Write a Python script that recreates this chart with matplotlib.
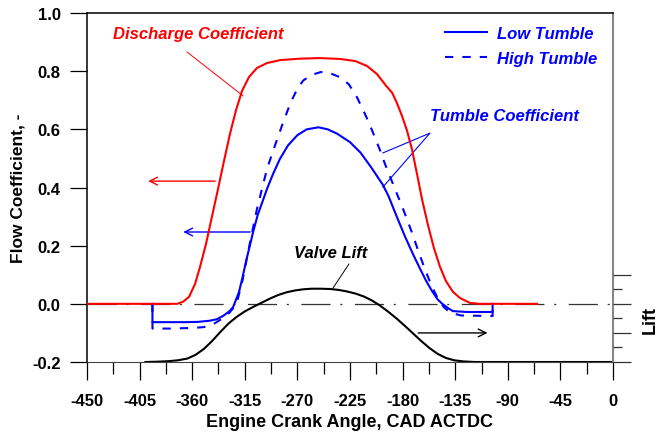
import matplotlib
matplotlib.use('Agg')
import matplotlib.pyplot as plt
from matplotlib.ticker import MultipleLocator, NullFormatter

plt.rcParams['font.family'] = ['Liberation Sans', 'DejaVu Sans']
plt.rcParams['font.weight'] = 'bold'
plt.rcParams['axes.labelweight'] = 'bold'
plt.rcParams['lines.scale_dashes'] = False

# discharge coefficient (left axis)
cd_cad = [-450, -380, -373, -367.9, -362.7, -357.6, -353.3, -348.2, -343.1, -337.9, -332.8,
          -327.7, -322.5, -317.4, -311.4, -304.6, -296, -284.9, -267.8, -250.7, -233.6,
          -220.7, -210.5, -201.9, -194.2, -189, -184.8, -180.5, -176.2, -171.9, -167.6,
          -163.4, -158.3, -153.2, -148.0, -142.9, -136.9, -130.9, -122.3, -113.8, -65]
cd_val = [0, 0, 0, 0.007, 0.024, 0.068, 0.127, 0.206, 0.30, 0.395, 0.491, 0.584, 0.666,
          0.732, 0.78, 0.811, 0.828, 0.838, 0.843, 0.845, 0.842, 0.835, 0.818, 0.79, 0.75,
          0.726, 0.69, 0.646, 0.595, 0.53, 0.445, 0.36, 0.271, 0.192, 0.127, 0.078, 0.041,
          0.02, 0.003, 0, 0]

# tumble coefficient, low tumble port
low_cad = [-394, -394, -380, -365, -355, -345, -339, -333, -328, -325, -320, -317, -314,
           -311, -308, -304, -300, -296, -291, -285, -278, -270, -262, -252, -244, -236,
           -225, -216, -207, -197, -192, -185, -178, -171, -165, -160, -155, -150, -146,
           -141, -137, -125, -103, -103]
low_val = [0, -0.063, -0.063, -0.063, -0.062, -0.058, -0.053, -0.04, -0.025, -0.011, 0.04,
           0.09, 0.145, 0.195, 0.245, 0.305, 0.35, 0.395, 0.445, 0.498, 0.545, 0.58, 0.60,
           0.607, 0.60, 0.585, 0.556, 0.52, 0.47, 0.41, 0.37, 0.30, 0.232, 0.17, 0.12, 0.08,
           0.045, 0.015, 0.0, -0.015, -0.025, -0.028, -0.028, 0]

# tumble coefficient, high tumble port
high_cad = [-394, -394, -380, -360, -350, -342, -334, -328, -322, -317, -310.6, -304.6,
            -300, -296, -290, -283, -276, -270, -265, -258, -250, -242, -234, -226, -219,
            -213, -208, -203, -199, -195, -190, -185, -179, -172, -166, -160, -155, -150,
            -145, -139.5, -130, -103, -103]
high_val = [0, -0.085, -0.085, -0.083, -0.08, -0.07, -0.05, -0.03, 0.0, 0.08, 0.21, 0.326,
            0.40, 0.464, 0.535, 0.615, 0.69, 0.74, 0.768, 0.787, 0.797, 0.793, 0.78, 0.755,
            0.71, 0.66, 0.615, 0.565, 0.525, 0.48, 0.43, 0.38, 0.32, 0.245, 0.175, 0.11, 0.06,
            0.02, -0.01, -0.03, -0.04, -0.042, 0]

# valve lift, drawn in left-axis units (right axis has no numbers)
lift_cad = [-400, -390, -380, -372, -364, -357, -350, -343, -336, -329, -322, -315, -308,
            -300, -293, -286, -279, -272, -265, -258, -250, -242, -235, -228, -220, -213,
            -206, -199, -192, -185, -178, -171, -164, -157, -150, -143, -136, -128, -118, 0]
lift_val = [-0.200, -0.199, -0.197, -0.194, -0.188, -0.175, -0.155, -0.128, -0.097, -0.068,
            -0.045, -0.026, -0.011, 0.005, 0.019, 0.031, 0.040, 0.046, 0.050, 0.052, 0.052,
            0.051, 0.048, 0.043, 0.035, 0.025, 0.011, -0.007, -0.028, -0.051, -0.076, -0.102,
            -0.128, -0.152, -0.172, -0.186, -0.194, -0.198, -0.2, -0.2]

xticks = [-450, -405, -360, -315, -270, -225, -180, -135, -90, -45, 0]
yticks = [-0.2, 0.0, 0.2, 0.4, 0.6, 0.8, 1.0]

fig = plt.figure(figsize=(6.6, 4.35), dpi=100)
ax = fig.add_axes([0.1318, 0.1655, 0.7970, 0.8023])

ax.plot([-450, 0], [0, 0], color='#333333', lw=0.9, dashes=(21, 7, 1.5, 9), zorder=1)
ax.plot(lift_cad, lift_val, color='black', lw=1.5, zorder=2)
l1, = ax.plot(low_cad, low_val, color='blue', lw=1.5, zorder=3, label='Low Tumble')
l2, = ax.plot(high_cad, high_val, color='blue', lw=1.5, dashes=(6, 6.5), zorder=3,
              label='High Tumble')
ax.plot(cd_cad, cd_val, color='red', lw=1.5, zorder=4)

ax.set_xlim(-450, 0)
ax.set_ylim(-0.2, 1.0)
ax.set_xticks(xticks)
ax.set_xticklabels([str(t) for t in xticks])
ax.xaxis.set_minor_locator(MultipleLocator(22.5))
ax.set_yticks(yticks)
ax.set_yticklabels(['%.1f' % t for t in yticks])
ax.tick_params(axis='x', which='major', direction='out', length=13, width=0.9,
               labelsize=12, pad=9)
ax.tick_params(axis='x', which='minor', direction='out', length=8.5, width=0.9)
ax.tick_params(axis='y', which='major', direction='out', length=12, width=0.9,
               labelsize=12, pad=7)
for side in ['left', 'top']:
    ax.spines[side].set_linewidth(1.1)
ax.spines['bottom'].set_color('#444444')
ax.spines['right'].set_color('#888888')
ax.spines['right'].set_linewidth(1.5)

ax.set_xlabel('Engine Crank Angle, CAD ACTDC', fontsize=13, labelpad=4)
ax.set_ylabel('Flow Coefficient, -', fontsize=12.5, labelpad=5)

# right-hand lift scale
ax2 = ax.twinx()
ax2.set_ylim(-0.2, 1.0)
ax2.set_yticks([-0.2, -0.1, 0.0, 0.1])
ax2.yaxis.set_major_formatter(NullFormatter())
ax2.set_yticks([-0.15, -0.05, 0.05], minor=True)
ax2.tick_params(axis='y', which='major', direction='out', length=13, width=0.9, color='#333333')
ax2.tick_params(axis='y', which='minor', direction='out', length=6.5, width=0.9, color='#333333')
for side in ['left', 'top', 'bottom', 'right']:
    ax2.spines[side].set_visible(False)
fig.text(0.985, 0.265, 'Lift', rotation=90, fontsize=13, ha='center', va='center')

ax.legend(handles=[l1, l2], loc='upper left', bbox_to_anchor=(0.652, 1.005), frameon=False,
          prop={'weight': 'bold', 'style': 'italic', 'size': 12}, labelcolor='blue',
          handlelength=2.5, handletextpad=0.6, labelspacing=0.6)

ital = dict(fontstyle='italic', fontweight='bold', fontsize=12)
ax.text(-355, 0.931, 'Discharge Coefficient', color='red', ha='center', va='center', **ital)
ax.plot([-364.4, -316.5], [0.866, 0.715], color='red', lw=0.7)
ax.text(-93, 0.646, 'Tumble Coefficient', color='blue', ha='center', va='center', **ital)
ax.plot([-196.8, -156.6, -196.8], [0.519, 0.587, 0.402], color='blue', lw=0.8)
ax.text(-242, 0.175, 'Valve Lift', color='black', ha='center', va='center', **ital)
ax.plot([-225.9, -239.6], [0.137, 0.054], color='black', lw=0.7)

arr = dict(arrowstyle='->', lw=1.0, mutation_scale=14)
ax.annotate('', xy=(-400, 0.422), xytext=(-338, 0.422),
            arrowprops=dict(color='red', **arr))
ax.annotate('', xy=(-370, 0.247), xytext=(-308, 0.247),
            arrowprops=dict(color='blue', **arr))
ax.annotate('', xy=(-105, -0.10), xytext=(-169, -0.10),
            arrowprops=dict(color='black', **arr))

fig.savefig('out.png', dpi=100)
